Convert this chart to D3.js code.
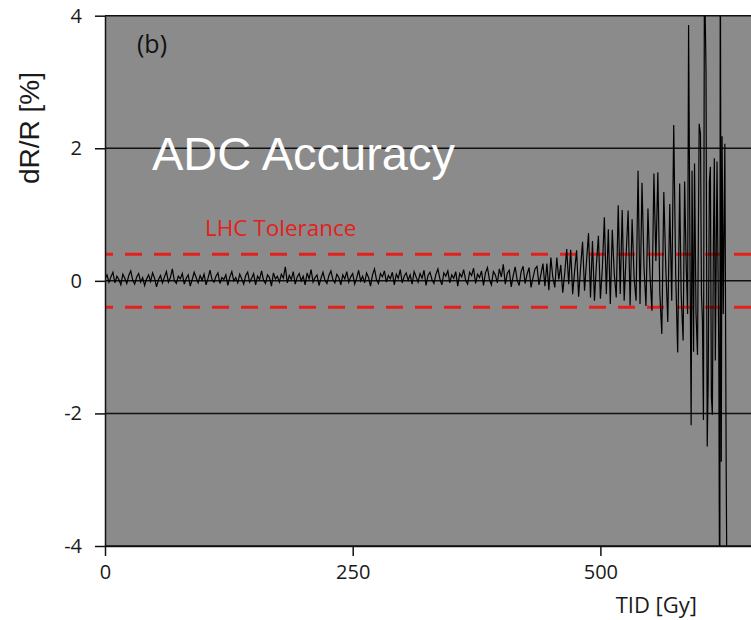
<!DOCTYPE html>
<html>
<head>
<meta charset="utf-8">
<script src="https://cdn.jsdelivr.net/npm/d3@7"></script>
<style>
  body { margin: 0; background: #fff; }
  svg { display: block; }
</style>
</head>
<body>
<script>
// readings taken off the figure: quiet part every 2 Gy from 0 Gy
var quietStep = 2;
var quietDR = [
  0.03, 0.09, -0.02, 0.06, 0.13, -0.03, 0.07, 0.02, -0.06, 0.10,
  0.04, -0.04, 0.08, 0.15, 0.01, -0.05, 0.06, 0.11, -0.02, 0.05,
  -0.07, 0.03, 0.09, -0.01, 0.12, 0.04, -0.09, 0.02, 0.08, -0.03,
  0.06, 0.14, -0.02, 0.05, 0.18, 0.00, -0.04, 0.07, 0.03, 0.11,
  -0.05, 0.04, 0.09, -0.08, 0.02, 0.13, 0.05, -0.03, 0.08, 0.01,
  0.10, -0.06, 0.04, 0.16, 0.02, -0.02, 0.07, 0.12, -0.04, 0.05,
  0.02, 0.09, -0.07, 0.06, 0.14, 0.00, 0.05, -0.03, 0.10, 0.03,
  -0.05, 0.08, 0.13, -0.02, 0.04, 0.11, -0.06, 0.07, 0.02, 0.15,
  0.01, -0.04, 0.09, 0.05, -0.08, 0.12, 0.03, 0.07, -0.02, 0.10,
  0.04, 0.21, -0.03, 0.08, 0.02, 0.14, -0.05, 0.06, 0.11, 0.00,
  0.07, -0.06, 0.12, 0.03, 0.17, -0.02, 0.05, 0.09, -0.07, 0.04,
  0.13, 0.01, -0.04, 0.08, 0.15, 0.02, -0.03, 0.10, 0.05, -0.06,
  0.09, 0.03, 0.14, -0.02, 0.06, 0.11, -0.05, 0.04, 0.16, 0.00,
  0.07, -0.03, 0.12, 0.05, -0.08, 0.09, 0.18, 0.02, -0.04, 0.11,
  0.06, 0.15, -0.02, 0.08, 0.03, 0.13, -0.06, 0.10, 0.04, 0.17,
  -0.03, 0.07, 0.12, 0.01, 0.09, -0.05, 0.14, 0.06, -0.02, 0.11,
  0.04, 0.16, -0.07, 0.08, 0.13, 0.02, -0.04, 0.10, 0.18, 0.03,
  -0.06, 0.12, 0.07, 0.15, -0.03, 0.09, 0.04, 0.14, -0.08, 0.11,
  0.06, 0.17, 0.01, -0.05, 0.13, 0.08, 0.19, -0.04, 0.10, 0.05,
  0.15, -0.07, 0.12, 0.20, 0.02, -0.06, 0.14, 0.09, -0.03, 0.18,
  0.06, 0.25, -0.05, 0.11, 0.16, -0.09, 0.08, 0.21, 0.01, -0.07,
  0.14, 0.22, -0.04, 0.10, 0.20, -0.10, 0.05, 0.18, 0.22, -0.06
];

// burst part, irregular spacing read spike by spike
var burstTID = [
  440, 442, 444, 446, 448, 450, 452, 454, 456, 458,
  460, 462, 464, 466, 468, 470, 472, 474, 476, 478,
  480, 482, 484, 486, 488, 490, 492, 494, 496, 498,
  500, 502, 504, 506, 508, 510, 512, 514, 516, 518,
  520, 522, 524, 526, 528, 530, 532, 534, 536, 538,
  540, 542, 544, 546, 548, 550, 552, 554, 556, 558,
  560, 562, 564, 566, 568, 570, 572, 574, 576, 578,
  580, 581.5, 583.5, 585, 586.5, 588, 589, 590.5, 591.6, 592.5,
  594, 595, 596.5, 598, 599.7, 601, 602, 603, 604, 605,
  606.6, 607.8, 608.8, 610, 611, 612, 613, 614, 615, 616,
  617.7, 619.5, 620.5, 621, 622, 622.8, 624, 625.6, 627, 628.3
];
var burstDR = [
  0.10, 0.26, -0.08, 0.26, -0.14, 0.35, 0.05, -0.10, 0.35, 0.02,
  0.24, -0.18, 0.12, 0.48, -0.05, 0.47, -0.20, 0.15, 0.46, -0.24,
  0.20, 0.59, -0.15, 0.30, 0.72, -0.25, 0.60, -0.30, 0.25, 0.68,
  -0.27, 0.20, 0.96, -0.20, 0.78, -0.35, 0.77, 0.10, -0.25, 1.14,
  -0.20, 1.07, -0.30, 0.40, 1.06, -0.37, 0.93, 0.05, -0.30, 1.66,
  -0.35, 1.48, 0.20, -0.38, 1.09, 0.10, -0.45, 1.62, 0.30, 1.64,
  -0.20, -0.80, 1.34, 0.20, -0.62, 1.16, -0.30, 2.35, 0.10, -1.08,
  1.47, -0.20, -0.90, 1.50, 0.30, -0.50, 3.86, 0.20, -2.18, 1.66,
  -1.07, 1.77, -0.49, -1.12, 2.37, 2.22, -0.20, -0.60, -2.10, 4.80,
  3.17, -2.50, -1.50, 1.50, 1.72, -1.75, -2.02, 0.50, 1.85, -1.20,
  1.80, -1.07, -6.00, 6.00, -2.73, 2.18, -0.50, 2.07, -2.96, -6.00
];

var yTicks = [-4, -2, 0, 2, 4];
var xTicks = [0, 250, 500];
var tolerance = [0.4, -0.4];

var W = 751, H = 620;
var plotLeft = 105, plotTop = 15.7, plotBottom = 546;

var points = quietDR.map(function(v, i) { return { t: i * quietStep, v: v }; })
  .concat(burstTID.map(function(t, i) { return { t: t, v: burstDR[i] }; }));

var x = d3.scaleLinear().domain([0, 652]).range([plotLeft, W]);
var y = d3.scaleLinear().domain([-4, 4]).range([plotBottom, plotTop]);

var svg = d3.select("body").append("svg").attr("width", W).attr("height", H);

svg.append("rect")
  .attr("x", plotLeft).attr("y", plotTop)
  .attr("width", W - plotLeft).attr("height", plotBottom - plotTop)
  .attr("fill", "#8b8b8b");

svg.append("clipPath").attr("id", "plot")
  .append("rect")
  .attr("x", plotLeft).attr("y", plotTop)
  .attr("width", W - plotLeft).attr("height", plotBottom - plotTop);

// grid lines at every y tick
svg.append("g").selectAll("line")
  .data(yTicks)
  .enter().append("line")
  .attr("x1", plotLeft).attr("x2", W)
  .attr("y1", function(d) { return y(d); })
  .attr("y2", function(d) { return y(d); })
  .attr("stroke", "#111").attr("stroke-width", 1.5);

svg.append("g").selectAll("line")
  .data(tolerance)
  .enter().append("line")
  .attr("x1", plotLeft).attr("x2", W)
  .attr("y1", function(d) { return y(d); })
  .attr("y2", function(d) { return y(d); })
  .attr("stroke", "#e3201c").attr("stroke-width", 3)
  .attr("stroke-dasharray", "17,12").attr("stroke-dashoffset", 9);

var line = d3.line()
  .x(function(d) { return x(d.t); })
  .y(function(d) { return y(d.v); });

svg.append("path")
  .datum(points)
  .attr("clip-path", "url(#plot)")
  .attr("d", line)
  .attr("fill", "none")
  .attr("stroke", "#000")
  .attr("stroke-width", 1.2)
  .attr("stroke-linejoin", "miter");

var plain = function(d) { return String(d); };
var yAxis = d3.axisLeft(y).tickValues(yTicks).tickFormat(plain)
  .tickSize(10).tickSizeOuter(0).tickPadding(13);
var xAxis = d3.axisBottom(x).tickValues(xTicks).tickFormat(plain)
  .tickSize(10).tickSizeOuter(0).tickPadding(9);

var gy = svg.append("g").attr("transform", "translate(" + plotLeft + ",0)").call(yAxis);
var gx = svg.append("g").attr("transform", "translate(0," + plotBottom + ")").call(xAxis);

[gx, gy].forEach(function(g) {
  g.selectAll("path, line").attr("stroke", "#111").attr("stroke-width", 1.5);
  g.selectAll("text")
    .attr("fill", "#1a1a1a")
    .style("font-family", "'Open Sans', sans-serif")
    .style("font-size", "20px");
});

svg.append("text")
  .attr("transform", "translate(39,128) rotate(-90)")
  .attr("text-anchor", "middle")
  .style("font-family", "'Liberation Sans', Arial, sans-serif")
  .style("font-size", "28px")
  .attr("fill", "#1a1a1a")
  .text("dR/R [%]");

svg.append("text")
  .attr("x", 697).attr("y", 613)
  .attr("text-anchor", "end")
  .style("font-family", "'Open Sans', sans-serif")
  .style("font-size", "22px")
  .attr("fill", "#1a1a1a")
  .text("TID [Gy]");

svg.append("text")
  .attr("x", 137).attr("y", 53)
  .style("font-family", "'Open Sans', sans-serif")
  .style("font-size", "25px")
  .attr("fill", "#111")
  .text("(b)");

svg.append("text")
  .attr("x", 152).attr("y", 170)
  .style("font-family", "'Liberation Sans', Arial, sans-serif")
  .style("font-size", "47px")
  .attr("fill", "#fff")
  .text("ADC Accuracy");

svg.append("text")
  .attr("x", 205).attr("y", 236)
  .style("font-family", "'Open Sans', sans-serif")
  .style("font-size", "22.5px")
  .attr("fill", "#e3201c")
  .text("LHC Tolerance");
</script>
</body>
</html>
